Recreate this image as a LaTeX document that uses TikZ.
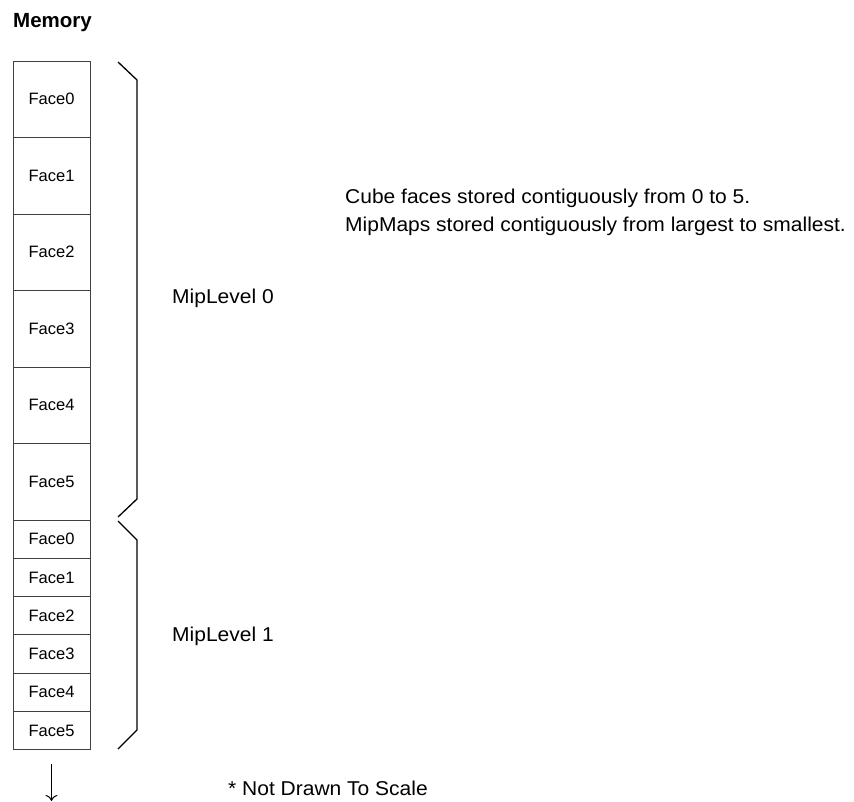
\documentclass[tikz,border=0pt]{standalone}
\usepackage{fontspec}
\setmainfont{Liberation Sans}
\newfontfamily\notefont[FakeStretch=1.05]{Liberation Sans}
\usetikzlibrary{calc,arrows.meta}
\begin{document}
\begin{tikzpicture}[x=1pt,y=-1pt,
  bigface/.style={draw=black!75, line width=0.9pt, minimum width=77pt, minimum height=76.5pt,
    inner sep=0pt, font=\fontsize{16.5}{18}\selectfont},
  smallface/.style={draw=black!75, line width=0.9pt, minimum width=77pt, minimum height=38.3pt,
    inner sep=0pt, font=\fontsize{16.5}{18}\selectfont},
  brace/.style={draw=black, line width=1.3pt, line join=miter},
  label/.style={anchor=base west, inner sep=0pt, font=\notefont\fontsize{20}{22}\selectfont},
  title/.style={anchor=base west, inner sep=0pt, font=\fontsize{20.5}{24}\selectfont\bfseries}]
\useasboundingbox[fill=white] (0,0) rectangle (854,802);

% Column of memory blocks: mip level 0 (large) then mip level 1 (small)
\foreach \i in {0,...,5}
  \node[bigface] (b\i) at (51.5, 61+76.5*\i+38.25) {Face\i};
\foreach \i in {0,...,5}
  \node[smallface] (s\i) at (51.5, 520+38.3*\i+19.15) {Face\i};

% Brackets beside each mip level
\draw[brace] (118,62) -- (137,80) -- (137,499) -- (118,517);
\draw[brace] (118,521) -- (137,540) -- (137,730) -- (118,749);

% Labels
\node[title] (mem) at (13,28) {Memory};
\node[label] (ml0) at (172,304) {MipLevel 0};
\node[label] (ml1) at (172,641) {MipLevel 1};
\node[label] (n1) at (345,204) {Cube faces stored contiguously from 0 to 5.};
\node[label] (n2) at (345,232) {MipMaps stored contiguously from largest to smallest.};
\node[label] (ns) at (228,795) {* Not Drawn To Scale};

% Continuation arrow below the column
\coordinate (arrowtop) at ($(s5.south)+(0,14)$);
\coordinate (arrowend) at (51.5,801);
\draw[line width=1pt, -{To[length=6pt,width=12pt]}] (arrowtop) -- (arrowend);
\end{tikzpicture}
\end{document}
